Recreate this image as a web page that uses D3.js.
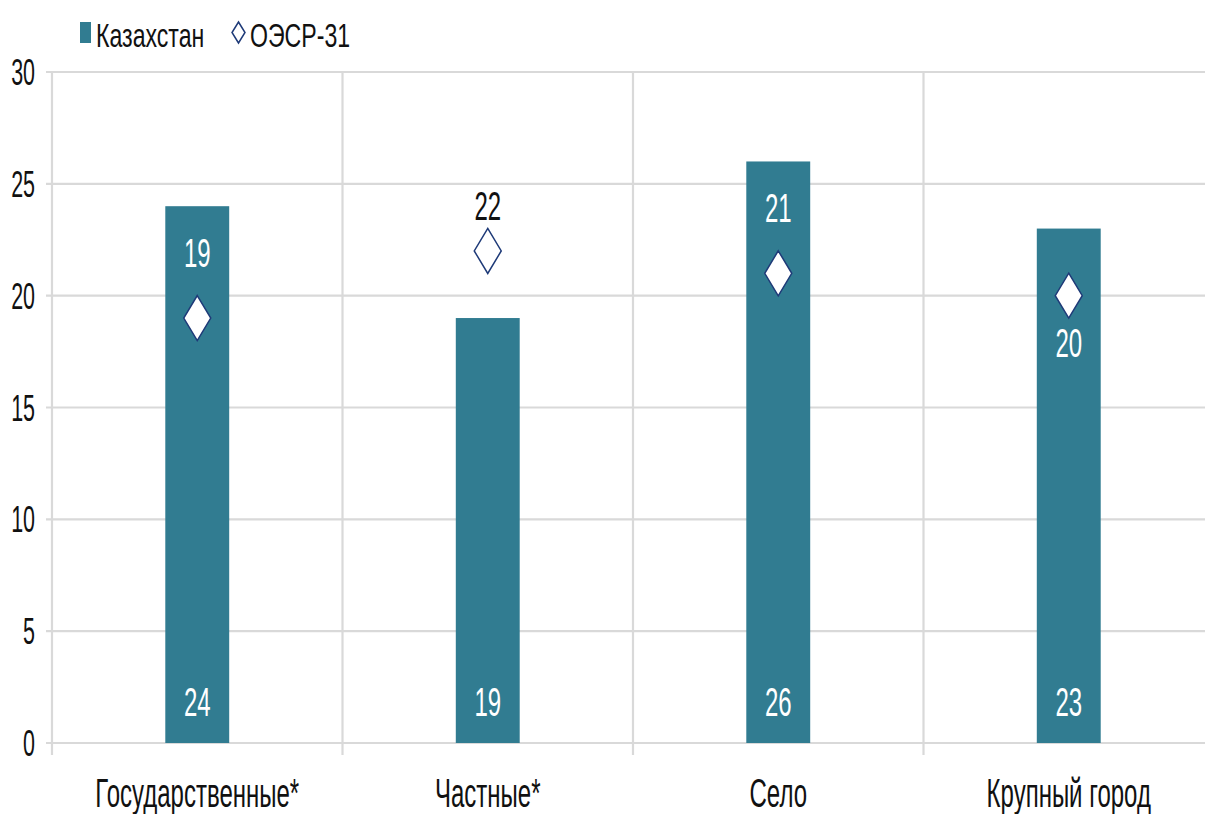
<!DOCTYPE html>
<html><head><meta charset="utf-8">
<script src="https://cdn.jsdelivr.net/npm/d3@7"></script>
<style>body{margin:0;background:#fff}svg{display:block}text{font-family:"Liberation Sans",Arial,sans-serif}</style>
</head><body><svg id="c" width="1205" height="814"></svg>
<script>
const categories = ["Государственные*","Частные*","Село","Крупный город"];
const kazakhstan = [24,19,26,23];
const oecd = [19,22,21,20];
const oecdLabelPos = ["above","above","above","below"];
const yTicks = [0,5,10,15,20,25,30];
const seriesNames = ["Казахстан","ОЭСР-31"];

const svg = d3.select("#c");
const barColor = "#317c91", diaStroke = "#1e3a78", grid = "#d9d9d9";
const x = d3.scaleBand().domain(categories).range([52,1214]).paddingInner(0).paddingOuter(0);
const y = d3.scaleLinear().domain([0,30]).range([743,72]);
const bw = x.bandwidth()*0.22;
const cx = c => x(c)+x.bandwidth()/2;
const tr = (tx,ty,sx) => `translate(${tx},${ty}) scale(${sx},1)`;

// gridlines
svg.append("g").selectAll("line").data(yTicks).join("line")
  .attr("x1",46).attr("x2",1205).attr("y1",d=>y(d)).attr("y2",d=>y(d))
  .attr("stroke",grid).attr("stroke-width",2.2);
// vertical separators
svg.append("g").selectAll("line").data(categories).join("line")
  .attr("x1",d=>x(d)).attr("x2",d=>x(d)).attr("y1",y(30)).attr("y2",755)
  .attr("stroke",grid).attr("stroke-width",2.2);
// y labels
svg.append("g").selectAll("text").data(yTicks).join("text")
  .attr("transform",d=>tr(35,y(d)+13,0.58)).attr("text-anchor","end")
  .attr("font-size",37).attr("fill","#111").text(d=>d);
// bars
svg.append("g").selectAll("rect").data(kazakhstan).join("rect")
  .attr("x",(d,i)=>cx(categories[i])-bw/2).attr("width",bw)
  .attr("y",d=>y(d)).attr("height",d=>y(0)-y(d)).attr("fill",barColor);
// bar labels
svg.append("g").selectAll("text").data(kazakhstan).join("text")
  .attr("transform",(d,i)=>tr(cx(categories[i]),716,0.6))
  .attr("text-anchor","middle").attr("font-size",40).attr("fill","#fff").text(d=>d);
// diamonds
const dw=13.5, dh=22.5;
svg.append("g").selectAll("path").data(oecd).join("path")
  .attr("d",(d,i)=>{const px=cx(categories[i]), py=y(d);
    return `M${px},${py-dh}L${px+dw},${py}L${px},${py+dh}L${px-dw},${py}Z`;})
  .attr("fill","#fff").attr("stroke",diaStroke).attr("stroke-width",1.5);
// oecd labels
const inside = (d,i) => d <= kazakhstan[i];
svg.append("g").selectAll("text").data(oecd).join("text")
  .attr("transform",(d,i)=>{
    const off = oecdLabelPos[i]==="below" ? 61 : (inside(d,i) ? -51 : -31);
    return tr(cx(categories[i]), y(d)+off, 0.6);})
  .attr("text-anchor","middle").attr("font-size",40)
  .attr("fill",(d,i)=> inside(d,i) ? "#fff" : "#111").text(d=>d);
// x labels
svg.append("g").selectAll("text").data(categories).join("text")
  .attr("transform",d=>tr(cx(d),807,0.6))
  .attr("text-anchor","middle").attr("font-size",40).attr("fill","#111").text(d=>d);
// legend
const lg = svg.append("g");
lg.append("rect").attr("x",80).attr("y",22).attr("width",11).attr("height",21).attr("fill",barColor);
lg.append("text").attr("transform",tr(96,47,0.68)).attr("font-size",34).attr("fill","#111").text(seriesNames[0]);
lg.append("path").attr("d","M238.5,22L245,32.5L238.5,43L232,32.5Z").attr("fill","#fff").attr("stroke",diaStroke).attr("stroke-width",1.5);
lg.append("text").attr("transform",tr(250,47,0.68)).attr("font-size",34).attr("fill","#111").text(seriesNames[1]);
</script></body></html>
